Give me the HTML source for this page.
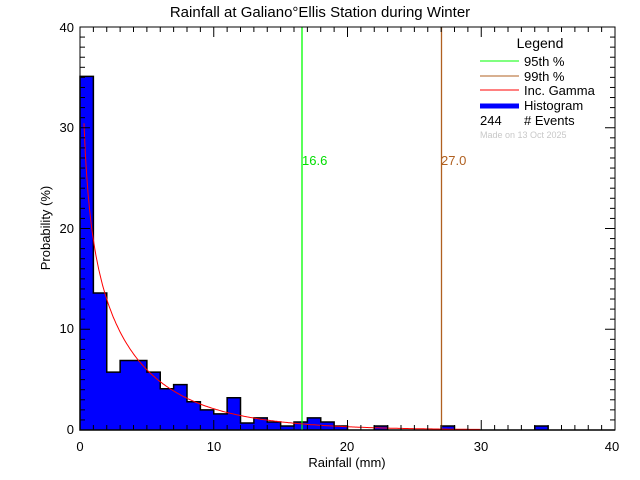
<!DOCTYPE html>
<html><head><style>body{margin:0;background:#fff}svg{display:block}text{font-family:"Liberation Sans",sans-serif;}</style></head>
<body>
<svg id="s" width="640" height="480" xmlns="http://www.w3.org/2000/svg">
<rect width="640" height="480" fill="#fff"/>
<g id="bars"></g>
<line x1="302" y1="27" x2="302" y2="430" stroke="#00ff00" stroke-width="1.3"/>
<line x1="441.5" y1="27" x2="441.5" y2="430" stroke="#b06020" stroke-width="1.3"/>
<polyline id="gam" fill="none" stroke="#ff0000" stroke-width="1"/>
<g id="ticks" stroke="#000" stroke-width="1"></g>
<rect x="80" y="27" width="535" height="403" fill="none" stroke="#000" stroke-width="1"/>
<text x="320" y="17" font-size="15" text-anchor="middle">Rainfall at Galiano°Ellis Station during Winter</text>
<text x="302" y="165" font-size="13" fill="#00dd00">16.6</text>
<text x="441" y="165" font-size="13" fill="#b06020">27.0</text>
<g font-size="13" text-anchor="middle">
<text x="80" y="451">0</text><text x="214" y="451">10</text><text x="347" y="451">20</text><text x="481" y="451">30</text><text x="612" y="451">40</text>
</g>
<g font-size="13" text-anchor="end">
<text x="74" y="434">0</text><text x="74" y="333">10</text><text x="74" y="233">20</text><text x="74" y="132">30</text><text x="74" y="32">40</text>
</g>
<text x="347" y="467" font-size="13" text-anchor="middle">Rainfall (mm)</text>
<text transform="translate(50,228) rotate(-90)" font-size="13" text-anchor="middle">Probability (%)</text>
<text x="540" y="48" font-size="14" text-anchor="middle">Legend</text>
<line x1="480" y1="61" x2="519" y2="61" stroke="#00ff00"/>
<line x1="480" y1="76" x2="519" y2="76" stroke="#b06020"/>
<line x1="480" y1="90" x2="519" y2="90" stroke="#ff0000"/>
<line x1="480" y1="106" x2="519" y2="106" stroke="#0000ff" stroke-width="5"/>
<g font-size="13"><text x="524" y="66">95th %</text><text x="524" y="81">99th %</text><text x="524" y="95">Inc. Gamma</text><text x="524" y="110">Histogram</text><text x="480" y="125">244</text><text x="524" y="125"># Events</text></g>
<text x="480" y="138" font-size="9" fill="#c8c8c8">Made on 13 Oct 2025</text>
</svg>
<script>
var X=v=>80+v*13.375,Y=v=>430-v*10.075;
var h={0:35.1,1:13.6,2:5.75,3:6.9,4:6.9,5:5.75,6:4.1,7:4.5,8:2.8,9:2.0,10:1.6,11:3.2,12:0.7,13:1.2,14:0.8,15:0.4,16:0.8,17:1.2,18:0.8,19:0.4,22:0.4,27:0.4,34:0.4};
var b=document.getElementById('bars'),d="M80 430";
for(var i=0;i<40;i++){var v=h[i]||0;d+=" L"+X(i)+" "+Y(v)+" L"+X(i+1)+" "+Y(v);}
d+=" L615 430 Z";
b.innerHTML='<path d="'+d+'" fill="#0000ff" stroke="none"/><path d="'+d+'" fill="none" stroke="#000" stroke-width="1.5"/>';
var p=[];for(var x=0.3;x<=30;x+=0.1){var f=22.3*Math.pow(x,-0.3)*Math.exp(-x/6);p.push(X(x).toFixed(1)+","+Y(f).toFixed(1));}
document.getElementById('gam').setAttribute('points',p.join(' '));
var t="";for(var i=0;i<=40;i++){var L=i%10?5:10,x=X(i);t+='<line x1="'+x+'" y1="430" x2="'+x+'" y2="'+(430-L)+'"/><line x1="'+x+'" y1="27" x2="'+x+'" y2="'+(27+L)+'"/>';var y=Y(i);t+='<line x1="80" y1="'+y+'" x2="'+(80+L)+'" y2="'+y+'"/><line x1="615" y1="'+y+'" x2="'+(615-L)+'" y2="'+y+'"/>';}
document.getElementById('ticks').innerHTML=t;
</script>
</body></html>
